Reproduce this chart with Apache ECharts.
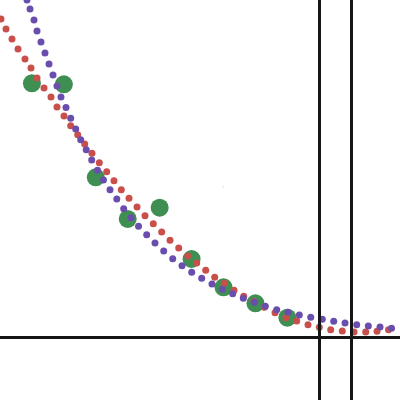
<!DOCTYPE html>
<html>
<head>
<meta charset="utf-8">
<script src="https://cdn.jsdelivr.net/npm/echarts@6/dist/echarts.min.js"></script>
<style>html,body{margin:0;padding:0;background:#fff;}#c{width:400px;height:400px;}</style>
</head>
<body>
<div id="c"></div>
<script>
// Observed points (large green markers)
const obsX = [1, 2, 3, 4, 5, 6, 7, 8, 9];
const obsY = [7.945, 7.914, 5.002, 3.696, 4.049, 2.443, 1.557, 1.055, 0.604];

// Red dotted curve (dot positions)
const redX = [0.031,0.188,0.376,0.564,0.783,0.971,1.159,1.378,1.597,1.785,2.004,2.214,2.433,2.653,2.881,3.110,3.342,3.570,3.799,4.040,4.291,4.541,4.801,5.064,5.324,5.597,5.878,6.160,6.442,6.724,7.025,7.329,7.632,7.955,8.277,8.613,8.957,9.292,9.646,10.000,10.357,10.720,11.087,11.453,11.807,12.167];
const redY = [9.959,9.646,9.333,9.020,8.706,8.425,8.111,7.798,7.516,7.203,6.921,6.617,6.336,6.044,5.753,5.459,5.177,4.895,4.613,4.344,4.071,3.799,3.548,3.288,3.028,2.787,2.537,2.318,2.089,1.870,1.682,1.463,1.275,1.112,0.930,0.761,0.604,0.501,0.385,0.304,0.229,0.188,0.157,0.157,0.179,0.229];

// Purple dotted curve (dot positions)
const purX = [0.846,0.940,1.065,1.159,1.284,1.409,1.535,1.660,1.785,1.910,2.067,2.214,2.371,2.527,2.700,2.872,3.054,3.241,3.445,3.658,3.874,4.103,4.338,4.594,4.854,5.127,5.409,5.700,6.004,6.317,6.639,6.962,7.288,7.620,7.964,8.309,8.666,9.020,9.374,9.731,10.094,10.451,10.805,11.171,11.535,11.901,12.261];
const purY = [10.554,10.272,9.928,9.583,9.239,8.894,8.550,8.205,7.861,7.516,7.188,6.849,6.514,6.179,5.863,5.543,5.224,4.917,4.613,4.322,4.018,3.736,3.467,3.204,2.944,2.693,2.452,2.233,2.026,1.838,1.660,1.494,1.356,1.212,1.087,0.961,0.855,0.774,0.689,0.617,0.554,0.492,0.438,0.385,0.344,0.313,0.276];

// Vertical reference lines
const vLines = [10, 11];
// Faint stray point
const strayX = [6.99];
const strayY = [4.706];

const zip = (a, b) => a.map((v, i) => [v, b[i]]);

const chart = echarts.init(document.getElementById('c'), null, {renderer: 'canvas'});
chart.setOption({
  animation: false,
  backgroundColor: '#ffffff',
  grid: {left: 0, right: 0, top: 0, bottom: 0, containLabel: false},
  xAxis: {
    type: 'value', min: 0, max: 12.527,
    axisLine: {show: false},
    axisTick: {show: false}, axisLabel: {show: false}, splitLine: {show: false}
  },
  yAxis: {
    type: 'value', min: -1.973, max: 10.554,
    axisLine: {show: false},
    axisTick: {show: false}, axisLabel: {show: false}, splitLine: {show: false}
  },
  series: [
    {
      type: 'scatter', data: zip(obsX, obsY), symbolSize: 18, z: 2,
      itemStyle: {color: '#3f8f52', opacity: 1}
    },
    {
      type: 'scatter', data: zip(redX, redY), symbolSize: 7, z: 3,
      itemStyle: {color: '#c9504a', opacity: 1}
    },
    {
      type: 'scatter', data: zip(purX, purY), symbolSize: 7, z: 4,
      itemStyle: {color: '#6a4eae', opacity: 1}
    },
    {
      type: 'scatter', data: zip(strayX, strayY), symbolSize: 2, z: 1,
      itemStyle: {color: '#e4e4e4'}
    },
    {
      type: 'line', data: [], z: 10,
      markLine: {
        silent: true, symbol: ['none', 'none'], animation: false,
        label: {show: false},
        lineStyle: {color: '#151515', width: 3, type: 'solid'},
        emphasis: {disabled: true},
        data: vLines.map(v => ({xAxis: v})).concat([{yAxis: 0}])
      }
    }
  ]
});
</script>
</body>
</html>
